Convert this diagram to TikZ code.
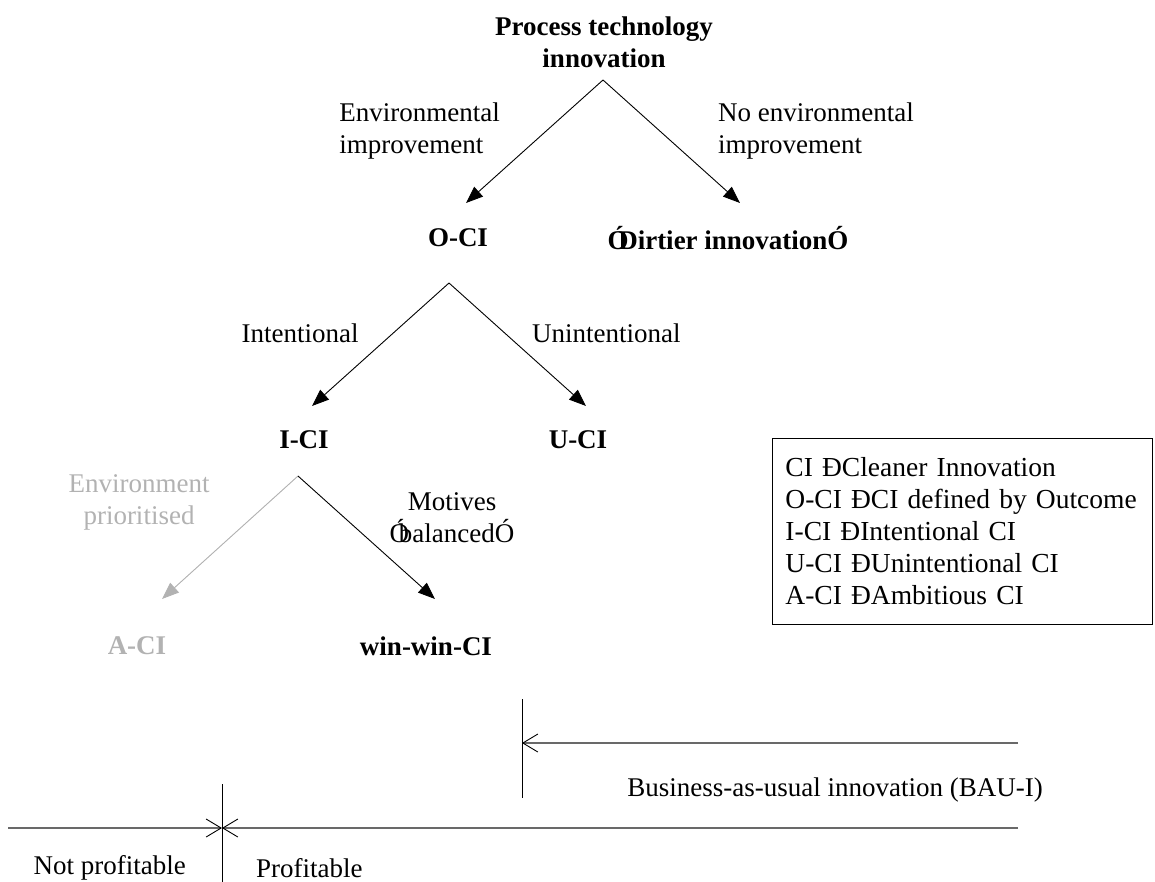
\documentclass[tikz,border=0pt]{standalone}
\usepackage{fontspec}
\setmainfont{Liberation Serif}
\usetikzlibrary{arrows.meta}
\definecolor{fadedtext}{RGB}{178,178,178}
\definecolor{rulegray}{RGB}{105,105,105}
% opening quote glyph that sits tight against the next letter
\newcommand{\openq}{Ó\kern-0.38em}
\begin{document}
\begin{tikzpicture}[x=1pt,y=-1pt,
  every node/.style={inner sep=0pt, font=\fontsize{27}{32}\selectfont},
  term/.style={font=\fontsize{27}{32}\selectfont\bfseries},
  branch/.style={draw=black, line width=0.9pt, -{Triangle[length=17pt,width=13pt]}},
  fadedbranch/.style={branch, draw=fadedtext, fill=fadedtext},
  barb/.style={draw=rulegray, line width=1.6pt, -{Straight Barb[length=15pt,width=18pt,line width=0.9pt,color=black]}},
  marker/.style={draw=black, line width=0.9pt}]
\useasboundingbox (0,0) rectangle (1155,882);

% root of the tree
\node[term, align=center] (root) at (604,42) {Process technology\\innovation};
\coordinate (fork1) at (603,80);
\coordinate (tipO) at (466,203);
\coordinate (tipD) at (740,203);
\node[align=left, anchor=east] (envimp) at (500,131) {Environmental\\improvement};
\node[align=left, anchor=west] (noenv) at (718,131) {No environmental\\improvement};
\node[term] (oci) at (458,238) {O-CI};
\node[term] (dirty) at (728,238) {\openq Dirtier innovationÓ};
\draw[branch] (fork1) -- (tipO);
\draw[branch] (fork1) -- (tipD);

% second level
\coordinate (fork2) at (449,283);
\coordinate (tipI) at (312,406);
\coordinate (tipU) at (586,406);
\node (intl) at (300,333) {Intentional};
\node[anchor=west] (unintl) at (532,333) {Unintentional};
\node[term] (ici) at (304,440) {I-CI};
\node[term] (uci) at (578,440) {U-CI};
\draw[branch] (fork2) -- (tipI);
\draw[branch] (fork2) -- (tipU);

% third level
\coordinate (fork3) at (298,476);
\coordinate (tipA) at (162,599);
\coordinate (tipW) at (435,599);
\node[align=center, text=fadedtext] (envprio) at (139,502) {Environment\\prioritised};
\node[align=center] (motives) at (452,518) {Motives\\\openq balancedÓ};
\node[term, text=fadedtext] (aci) at (137,646) {A-CI};
\node[term] (wwci) at (426,646) {win-win-CI};
\draw[fadedbranch] (fork3) -- (tipA);
\draw[branch] (fork3) -- (tipW);

% legend
\node[draw=black, line width=0.9pt, anchor=north west, minimum width=380pt, minimum height=186pt,
      align=left, text width=354pt, inner xsep=13pt, inner ysep=9pt, font=\fontsize{27.5}{32}\selectfont]
  (legend) at (772,438)
  {CI ÐCleaner Innovation\\O-CI ÐCI defined by Outcome\\I-CI ÐIntentional CI\\U-CI ÐUnintentional CI\\A-CI ÐAmbitious CI};

% business-as-usual range
\coordinate (bauTop) at (522,699);
\coordinate (bauBot) at (522,798);
\coordinate (bauEnd) at (1018,743);
\coordinate (bauTip) at (522,743);
\draw[marker] (bauTop) -- (bauBot);
\draw[barb] (bauEnd) -- (bauTip);
\node[anchor=east] (bau) at (1043,790) {Business-as-usual innovation (BAU-I)};

% profitability threshold
\coordinate (profTop) at (222,784);
\coordinate (profBot) at (222,882);
\coordinate (cross) at (222,828);
\coordinate (leftEnd) at (8,828);
\coordinate (rightEnd) at (1018,828);
\draw[marker] (profTop) -- (profBot);
\draw[barb] (leftEnd) -- (cross);
\draw[barb] (rightEnd) -- (cross);
\node[anchor=east] (notprof) at (186,868) {Not profitable};
\node[anchor=west] (prof) at (256,868) {Profitable};
\end{tikzpicture}
\end{document}
